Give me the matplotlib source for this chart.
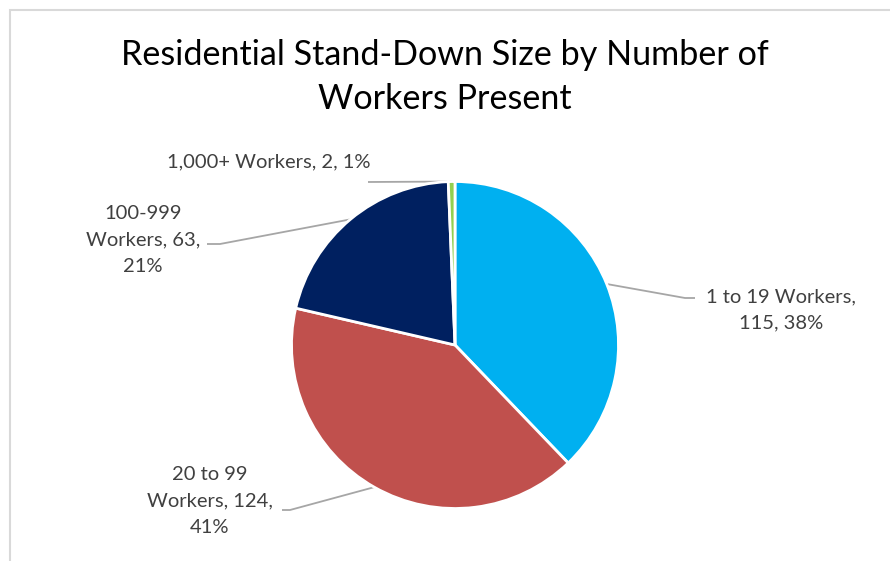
import numpy as np
import matplotlib
matplotlib.use("Agg")
import matplotlib.pyplot as plt
from matplotlib.patches import Rectangle

plt.rcParams['font.family'] = ['Lato', 'DejaVu Sans']

# data
categories = ['1 to 19 Workers', '20 to 99 Workers', '100-999 Workers', '1,000+ Workers']
counts = [115, 124, 63, 2]
colors = ['#00B0F0', '#C0504D', '#002060', '#92D050']
title = 'Residential Stand-Down Size by Number of\nWorkers Present'

W, H = 890, 561
CX, CY, R = 455, 345, 163.5   # pie centre / radius in pixels


def px(x, y):
    # pixel position (from top-left) -> data coords
    return (x - CX) / R, (CY - y) / R


fig = plt.figure(figsize=(W / 100, H / 100), dpi=100)
ax = fig.add_axes([0, 0, 1, 1])

# chart frame (runs off the right and bottom edges)
fig.patches.append(Rectangle((9.5 / W, -0.1), 1.2, 1 - 9.5 / H + 0.1,
                             transform=fig.transFigure, fill=False,
                             edgecolor='#D9D9D9', linewidth=1.5))

wedges, _ = ax.pie(counts, colors=colors, startangle=90, counterclock=False,
                   radius=1, center=(0, 0),
                   wedgeprops=dict(edgecolor='white', linewidth=2))

ax.set_xlim(px(0, 0)[0], px(W, 0)[0])
ax.set_ylim(px(0, H)[1], px(0, 0)[1])
ax.set_aspect('equal')
ax.axis('off')

fig.text(0.5, 1 - 77 / H, title, ha='center', va='center', fontsize=24.6,
         color='black', linespacing=1.45)

# label centre (px), elbow of the leader line (px)
label_pos = [(781, 310), (210, 501), (143, 240), (269, 162)]
label_text = ['1 to 19 Workers,\n115, 38%',
              '20 to 99\nWorkers, 124,\n41%',
              '100-999\nWorkers, 63,\n21%',
              '1,000+ Workers, 2, 1%']
elbows = [((695, 298), (685, 298)), ((282, 510), (290, 510)),
          ((207, 244), (220, 244)), ((368, 182), (368, 182))]
anchor_override = {2: 129.8}

for i, w in enumerate(wedges):
    ang = anchor_override.get(i, (w.theta1 + w.theta2) / 2)
    ex, ey = np.cos(np.radians(ang)), np.sin(np.radians(ang))
    (x0, y0), (x1, y1) = px(*elbows[i][0]), px(*elbows[i][1])
    ax.plot([x0, x1, ex], [y0, y1, ey], color='#A6A6A6', linewidth=1.3,
            zorder=0, solid_capstyle='butt')
    tx, ty = px(*label_pos[i])
    ax.text(tx, ty, label_text[i], ha='center', va='center', fontsize=14.5,
            color='#404040', linespacing=1.65)

fig.savefig('out.png', dpi=100, facecolor='white')
